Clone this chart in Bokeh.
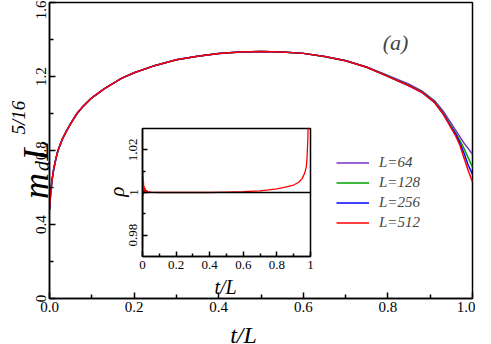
from bokeh.plotting import figure
from bokeh.models import Range1d, FixedTicker, Label, Legend, LegendItem, Span
from bokeh.core.properties import value
from bokeh.embed import file_html
from bokeh.resources import INLINE

SERIF = "Liberation Serif"

# ---------------- data ----------------
t_main = [0.0, 0.003, 0.006, 0.01, 0.015, 0.02, 0.03, 0.04, 0.05, 0.065, 0.08, 0.1,
          0.13, 0.17, 0.2, 0.25, 0.3, 0.35, 0.4, 0.45, 0.5, 0.55, 0.6, 0.65, 0.7,
          0.75, 0.79, 0.85, 0.88, 0.91, 0.93, 0.95, 0.96, 0.97, 0.98, 0.99, 1.0]
m_L64 = [0.48, 0.58, 0.64, 0.70, 0.755, 0.80, 0.86, 0.905, 0.945, 1.0, 1.04, 1.085,
         1.135, 1.19, 1.22, 1.26, 1.29, 1.31, 1.324, 1.332, 1.335, 1.333, 1.325, 1.308, 1.286,
         1.252, 1.215, 1.158, 1.122, 1.07, 1.015, 0.945, 0.91, 0.875, 0.84, 0.81, 0.78]
m_L128 = [0.48, 0.58, 0.64, 0.70, 0.755, 0.80, 0.86, 0.905, 0.945, 1.0, 1.04, 1.085,
          1.135, 1.19, 1.22, 1.26, 1.29, 1.31, 1.324, 1.332, 1.335, 1.333, 1.325, 1.308, 1.285,
          1.25, 1.212, 1.153, 1.118, 1.064, 1.005, 0.93, 0.895, 0.855, 0.81, 0.76, 0.71]
m_L256 = [0.48, 0.58, 0.64, 0.70, 0.755, 0.80, 0.86, 0.905, 0.945, 1.0, 1.04, 1.085,
          1.135, 1.19, 1.22, 1.26, 1.29, 1.31, 1.324, 1.332, 1.335, 1.333, 1.325, 1.308, 1.285,
          1.25, 1.21, 1.15, 1.115, 1.06, 1.0, 0.925, 0.89, 0.84, 0.785, 0.72, 0.67]
m_L512 = [0.48, 0.58, 0.64, 0.70, 0.755, 0.80, 0.86, 0.905, 0.945, 1.0, 1.04, 1.085,
          1.135, 1.19, 1.22, 1.26, 1.29, 1.31, 1.324, 1.332, 1.335, 1.333, 1.325, 1.308, 1.285,
          1.25, 1.21, 1.15, 1.115, 1.06, 1.0, 0.92, 0.88, 0.83, 0.76, 0.69, 0.63]
series_names = ["L=64", "L=128", "L=256", "L=512"]
series_colors = ["#7a2fc4", "#00a000", "#0000ff", "#ff0000"]

t_inset = [0.0, 0.002, 0.003, 0.004, 0.005, 0.006, 0.008, 0.01, 0.012, 0.015, 0.02, 0.025,
           0.03, 0.04, 0.06, 0.1, 0.2, 0.3, 0.4, 0.5, 0.6, 0.7, 0.75, 0.8, 0.85, 0.9, 0.93,
           0.95, 0.965, 0.975, 0.98, 0.984, 0.987]
rho_inset = [0.974, 1.0095, 0.998, 1.007, 0.999, 1.005, 0.9995, 1.003, 1.0, 1.002, 1.0005, 1.001,
             1.0002, 1.0003, 1.0001, 1.0, 1.0, 1.0, 1.0, 1.0002, 1.0004, 1.0008, 1.0012, 1.0017,
             1.0025, 1.0035, 1.0048, 1.0065, 1.009, 1.012, 1.017, 1.025, 1.035]

main_xticks = [0.0, 0.2, 0.4, 0.6, 0.8, 1.0]
main_xlabels = ["0.0", "0.2", "0.4", "0.6", "0.8", "1.0"]
main_xminor = [0.1, 0.3, 0.5, 0.7, 0.9]
main_yticks = [0.0, 0.4, 0.8, 1.2, 1.6]
main_ylabels = ["0", "0.4", "0.8", "1.2", "1.6"]
main_yminor = [0.2, 0.6, 1.0, 1.4]
ins_xticks = [0.0, 0.2, 0.4, 0.6, 0.8, 1.0]
ins_xlabels = ["0", "0.2", "0.4", "0.6", "0.8", "1"]
ins_xminor = [0.1, 0.3, 0.5, 0.7, 0.9]
ins_yticks = [0.98, 1.0, 1.02]
ins_ylabels = ["0.98", "1", "1.02"]
ins_yminor = [0.99, 1.01]


def style_axis(ax, ticks, labels, minor, size, tick_in, minor_in, standoff, vertical=False):
    ax.ticker = FixedTicker(ticks=ticks, minor_ticks=minor)
    ax.major_label_overrides = dict(zip(ticks, labels))
    ax.major_tick_in = tick_in
    ax.major_tick_out = 0
    ax.minor_tick_in = minor_in
    ax.minor_tick_out = 0
    ax.axis_line_width = 1.5
    ax.axis_line_color = "black"
    ax.major_tick_line_width = 1.5
    ax.minor_tick_line_width = 1.5
    ax.major_tick_line_color = "black"
    ax.minor_tick_line_color = "black"
    ax.major_label_text_font = SERIF
    ax.major_label_text_font_size = size
    ax.major_label_text_color = "black"
    ax.major_label_standoff = standoff
    if vertical:
        ax.major_label_orientation = "vertical"


def add_text(fig, text, x, y, size, align="left", style="italic"):
    fig.text(x=[x], y=[y], text=[text], text_font=value(SERIF), text_font_size=size,
             text_font_style=style, text_align=align, text_baseline="alphabetic",
             text_color="black")


def overlay(width, height, styles):
    f = figure(width=width, height=height, output_backend="svg", toolbar_location=None,
               title=None, x_range=Range1d(0, width), y_range=Range1d(0, height),
               x_axis_type=None, y_axis_type=None,
               min_border_left=0, min_border_right=0, min_border_top=0, min_border_bottom=0,
               styles=styles)
    f.xgrid.visible = False
    f.ygrid.visible = False
    f.background_fill_alpha = 0
    f.border_fill_alpha = 0
    f.outline_line_alpha = 0
    return f


# ---------------- main figure ----------------
p = figure(width=475, height=336, output_backend="svg", toolbar_location=None, title=None,
           x_range=Range1d(0, 1), y_range=Range1d(0, 1.6),
           min_border_left=49, min_border_right=3, min_border_top=2, min_border_bottom=38,
           styles={"margin-bottom": "-8px"})
p.xgrid.visible = False
p.ygrid.visible = False
p.outline_line_color = "black"
p.outline_line_width = 1.5
p.outline_line_alpha = 1.0
style_axis(p.xaxis[0], main_xticks, main_xlabels, main_xminor, "15px", 6, 4, 3)
style_axis(p.yaxis[0], main_yticks, main_ylabels, main_yminor, "15px", 6, 4, 4, vertical=True)

renderers = []
for name, ys, col in zip(series_names, [m_L64, m_L128, m_L256, m_L512], series_colors):
    r = p.line(t_main, ys, line_color=col, line_width=1.5)
    renderers.append(r)

legend = Legend(items=[LegendItem(label=n, renderers=[r]) for n, r in zip(series_names, renderers)],
                location=(287, 67), border_line_alpha=0, background_fill_alpha=0,
                padding=0, margin=0, spacing=3, glyph_width=33, glyph_height=15,
                label_height=15, label_standoff=10, label_text_font=SERIF,
                label_text_font_style="italic", label_text_font_size="15px")
p.add_layout(legend)

p.add_layout(Label(x=0.818, y=1.384, text="(a)", text_font=SERIF, text_font_size="22px",
                   text_font_style="italic", text_align="center", text_baseline="alphabetic"))

# ---------------- inset ----------------
ins = figure(width=209, height=174, output_backend="svg", toolbar_location=None, title=None,
             x_range=Range1d(0, 1), y_range=Range1d(0.97, 1.03),
             min_border_left=37, min_border_right=4, min_border_top=4, min_border_bottom=42,
             styles={"position": "absolute", "left": "105px", "top": "124px"})
ins.border_fill_alpha = 0
ins.background_fill_color = "white"
ins.xgrid.visible = False
ins.ygrid.visible = False
ins.outline_line_color = "black"
ins.outline_line_width = 1.5
ins.outline_line_alpha = 1.0
style_axis(ins.xaxis[0], ins_xticks, ins_xlabels, ins_xminor, "13px", 5, 3, 4)
style_axis(ins.yaxis[0], ins_yticks, ins_ylabels, ins_yminor, "13px", 5, 3, 5, vertical=True)
ins.line(t_inset, rho_inset, line_color="#ff0000", line_width=1.3)
ins.add_layout(Span(location=1.0, dimension="width", line_color="black", line_width=1.3))

# ---------------- horizontal titles (canvas pixel coordinates) ----------------
ov = overlay(475, 336, {"position": "absolute", "left": "8px", "top": "8px"})
add_text(ov, "t/L", 235, 10, "24px", align="center")     # main x title
add_text(ov, "t/L", 217, 58, "20px", align="center")     # inset x title

# ---------------- vertical titles: drawn horizontally, box turned 90 deg ----------------
vt = overlay(130, 135, {"position": "absolute", "left": "5px", "top": "215px",
                        "transform": "rotate(-90deg)", "transform-origin": "0 0"})
add_text(vt, "m", 15, 103, "36px")
add_text(vt, "d", 42, 97, "20px")
add_text(vt, "L", 52, 103, "36px")
add_text(vt, "5/16", 77, 122, "19px")
add_text(vt, "ρ", 17, 19, "21px")

open("out.html", "w").write(file_html([p, ins, ov, vt], INLINE))
